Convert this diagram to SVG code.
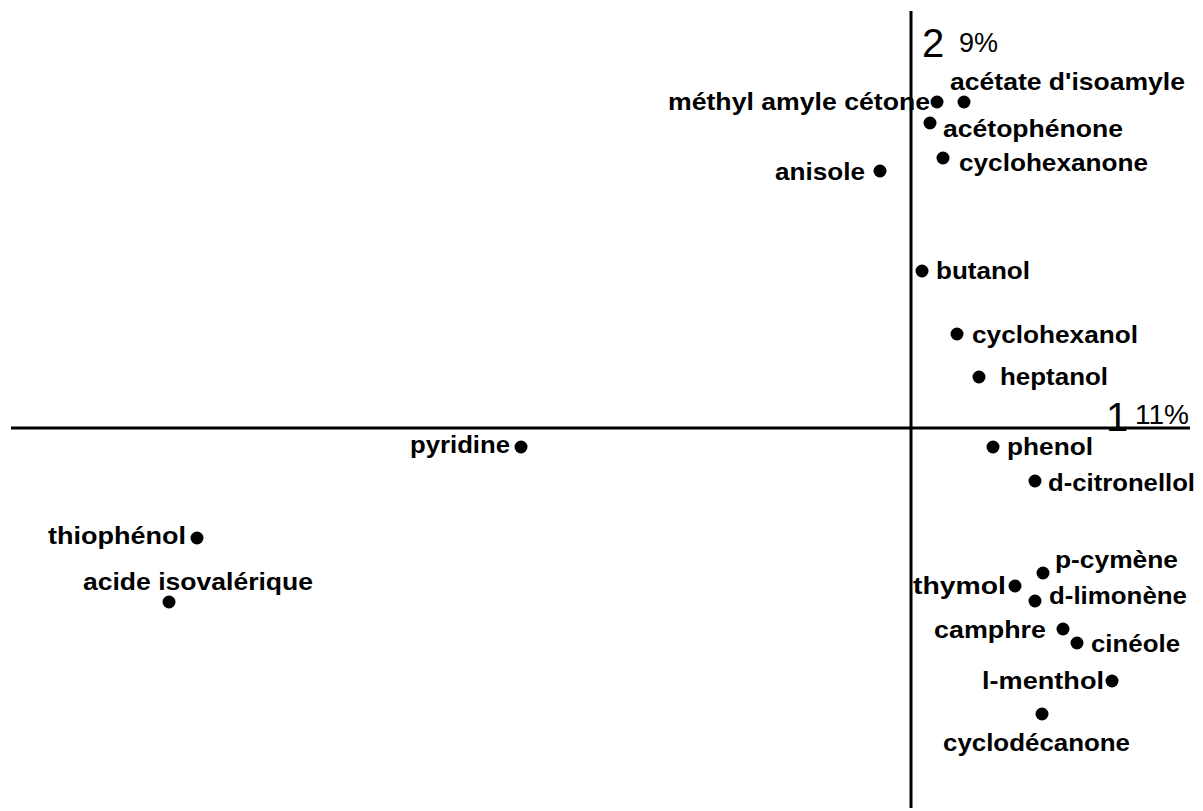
<svg xmlns="http://www.w3.org/2000/svg" width="1203" height="811" viewBox="0 0 1203 811">
<style>
.lbl{font-family:"Liberation Sans",Arial,sans-serif;font-weight:bold;font-size:24px;fill:#000}
.ax{font-family:"Liberation Sans",Arial,sans-serif;fill:#000}
.dot{fill:#000}
.axis{stroke:#000;stroke-width:3;fill:none}
</style>
<rect width="1203" height="811" fill="#fff"/>
<g id="axes">
<line class="axis" x1="11" y1="428" x2="1190" y2="428"/>
<line class="axis" x1="911" y1="11" x2="911" y2="808"/>
<text class="ax" x="922" y="57" font-size="40">2</text>
<text class="ax" x="959" y="52" font-size="27">9%</text>
<text class="ax" x="1106" y="431" font-size="40">1</text>
<text class="ax" x="1135" y="424" font-size="28">11%</text>
</g>
<g id="acetate_isoamyle"><circle class="dot" cx="964" cy="102" r="6.5"/><text class="lbl" x="950" y="90" textLength="235" lengthAdjust="spacingAndGlyphs">acétate d'isoamyle</text></g>
<g id="methyl_amyle_cetone"><circle class="dot" cx="937" cy="102" r="6.5"/><text class="lbl" x="668" y="110" textLength="262" lengthAdjust="spacingAndGlyphs">méthyl amyle cétone</text></g>
<g id="acetophenone"><circle class="dot" cx="930" cy="123" r="6.5"/><text class="lbl" x="943" y="137" textLength="180" lengthAdjust="spacingAndGlyphs">acétophénone</text></g>
<g id="cyclohexanone"><circle class="dot" cx="943" cy="158" r="6.5"/><text class="lbl" x="959" y="171" textLength="189" lengthAdjust="spacingAndGlyphs">cyclohexanone</text></g>
<g id="anisole"><circle class="dot" cx="880" cy="171" r="6.5"/><text class="lbl" x="775" y="180" textLength="90" lengthAdjust="spacingAndGlyphs">anisole</text></g>
<g id="butanol"><circle class="dot" cx="922" cy="271" r="6.5"/><text class="lbl" x="936" y="279" textLength="94" lengthAdjust="spacingAndGlyphs">butanol</text></g>
<g id="cyclohexanol"><circle class="dot" cx="957" cy="334" r="6.5"/><text class="lbl" x="972" y="343" textLength="166" lengthAdjust="spacingAndGlyphs">cyclohexanol</text></g>
<g id="heptanol"><circle class="dot" cx="979" cy="377" r="6.5"/><text class="lbl" x="1000" y="385" textLength="108" lengthAdjust="spacingAndGlyphs">heptanol</text></g>
<g id="pyridine"><circle class="dot" cx="521" cy="447" r="6.5"/><text class="lbl" x="410" y="453" textLength="100" lengthAdjust="spacingAndGlyphs">pyridine</text></g>
<g id="phenol"><circle class="dot" cx="993" cy="447" r="6.5"/><text class="lbl" x="1007" y="455" textLength="86" lengthAdjust="spacingAndGlyphs">phenol</text></g>
<g id="d_citronellol"><circle class="dot" cx="1035" cy="481" r="6.5"/><text class="lbl" x="1048" y="491" textLength="147" lengthAdjust="spacingAndGlyphs">d-citronellol</text></g>
<g id="thiophenol"><circle class="dot" cx="197" cy="538" r="6.5"/><text class="lbl" x="48" y="544" textLength="138" lengthAdjust="spacingAndGlyphs">thiophénol</text></g>
<g id="acide_isovalerique"><circle class="dot" cx="169" cy="602" r="6.5"/><text class="lbl" x="83" y="590" textLength="230" lengthAdjust="spacingAndGlyphs">acide isovalérique</text></g>
<g id="p_cymene"><circle class="dot" cx="1043" cy="573" r="6.5"/><text class="lbl" x="1055" y="568" textLength="123" lengthAdjust="spacingAndGlyphs">p-cymène</text></g>
<g id="thymol"><circle class="dot" cx="1015" cy="586" r="6.5"/><text class="lbl" x="913" y="594" textLength="93" lengthAdjust="spacingAndGlyphs">thymol</text></g>
<g id="d_limonene"><circle class="dot" cx="1035" cy="601" r="6.5"/><text class="lbl" x="1049" y="604" textLength="138" lengthAdjust="spacingAndGlyphs">d-limonène</text></g>
<g id="camphre"><circle class="dot" cx="1063" cy="629" r="6.5"/><text class="lbl" x="934" y="638" textLength="112" lengthAdjust="spacingAndGlyphs">camphre</text></g>
<g id="cineole"><circle class="dot" cx="1077" cy="643" r="6.5"/><text class="lbl" x="1091" y="652" textLength="89" lengthAdjust="spacingAndGlyphs">cinéole</text></g>
<g id="l_menthol"><circle class="dot" cx="1112" cy="681" r="6.5"/><text class="lbl" x="982" y="689" textLength="122" lengthAdjust="spacingAndGlyphs">l-menthol</text></g>
<g id="cyclodecanone"><circle class="dot" cx="1042" cy="714" r="6.5"/><text class="lbl" x="943" y="751" textLength="187" lengthAdjust="spacingAndGlyphs">cyclodécanone</text></g>
</svg>
